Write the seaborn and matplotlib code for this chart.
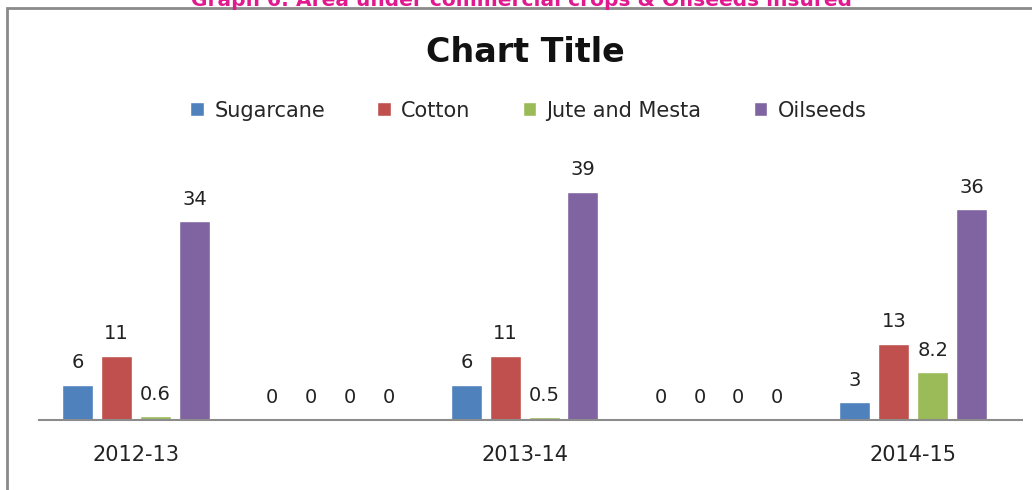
import pandas as pd
import matplotlib
import matplotlib.pyplot as plt
import matplotlib.patches as patches
import seaborn as sns

matplotlib.use('Agg')

# chart data
years = ["2012-13", " ", "2013-14", "  ", "2014-15"]
crops = ["Sugarcane", "Cotton", "Jute and Mesta", "Oilseeds"]
sugarcane = [6, 0, 6, 0, 3]
cotton = [11, 0, 11, 0, 13]
jute_mesta = [0.6, 0, 0.5, 0, 8.2]
oilseeds = [34, 0, 39, 0, 36]
colors = ["#4F81BD", "#C0504D", "#9BBB59", "#8064A2"]


def build_frame():
    """Long-form table for seaborn."""
    rows = []
    for crop, vals in zip(crops, [sugarcane, cotton, jute_mesta, oilseeds]):
        for yr, v in zip(years, vals):
            rows.append({"year": yr, "crop": crop, "value": v})
    return pd.DataFrame(rows)


def main():
    df = build_frame()
    sns.set_style("white")

    fig = plt.figure(figsize=(10.32, 4.9), dpi=100)
    ax = fig.add_axes([0.0378, 0.1429, 0.9525, 0.537])

    sns.barplot(data=df, x="year", y="value", hue="crop", order=years,
                hue_order=crops, palette=colors, width=0.8, gap=0.2,
                saturation=1, ax=ax, legend=False)

    for cont in ax.containers:
        ax.bar_label(cont, fmt="%g", padding=9, fontsize=14,
                     family="DejaVu Sans", color="#222222")

    ax.set_xlim(-0.5, 4.56)
    ax.set_ylim(0, 45)
    ax.set_xlabel("")
    ax.set_ylabel("")
    ax.set_yticks([])
    ax.tick_params(axis="x", length=0, pad=18, labelsize=15)
    for lbl in ax.get_xticklabels():
        lbl.set_family("DejaVu Sans")
        lbl.set_color("#222222")
    for side in ["left", "right", "top"]:
        ax.spines[side].set_visible(False)
    ax.spines["bottom"].set_color("#8c8c8c")
    ax.spines["bottom"].set_linewidth(1.5)

    # legend
    handles = [patches.Patch(facecolor=c, label=n) for c, n in zip(colors, crops)]
    fig.legend(handles=handles, loc="center", bbox_to_anchor=(0.512, 0.774),
               ncol=4, frameon=False, prop={"family": "DejaVu Sans", "size": 15},
               handlelength=0.65, handleheight=0.65, handletextpad=0.5,
               columnspacing=2.5)

    fig.text(0.509, 0.893, "Chart Title", ha="center", va="center",
             fontsize=24, fontweight="bold", family="DejaVu Sans",
             color="#111111")

    # clipped heading above the chart box
    fig.text(0.505, 1.0, "Graph 6: Area under commercial crops & Oilseeds insured",
             ha="center", va="center", fontsize=14.5, fontweight="bold",
             color="#E0198F", family="DejaVu Sans")

    # chart outer frame
    fig.patches.append(patches.Rectangle((0.0068, -0.1), 1.2, 1.0837,
                                         transform=fig.transFigure, fill=False,
                                         edgecolor="#8a8a8a", lw=2,
                                         clip_on=False))

    fig.savefig("out.png", dpi=100)
    plt.close(fig)


if __name__ == "__main__":
    main()
